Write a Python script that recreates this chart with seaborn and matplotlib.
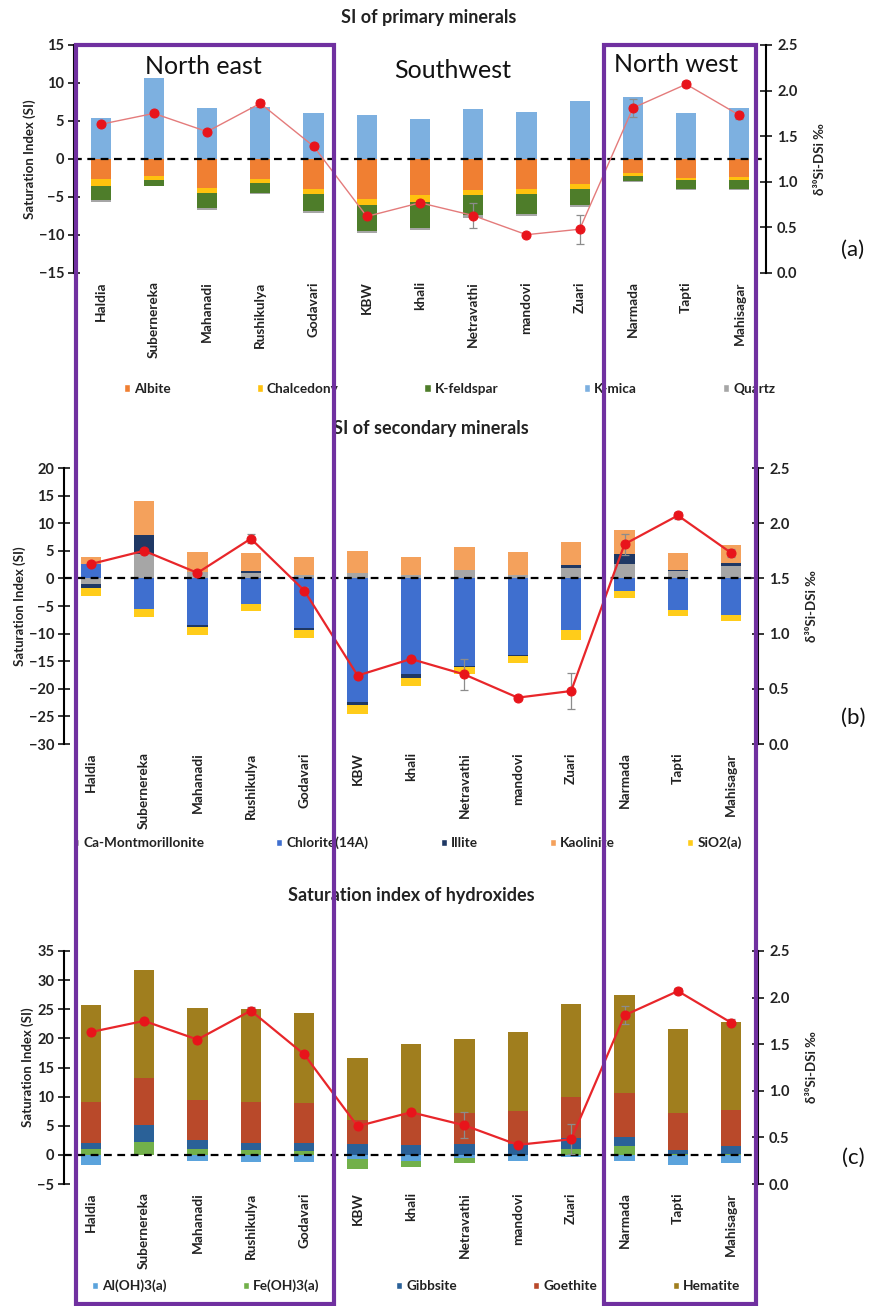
import numpy as np
import pandas as pd
import matplotlib
matplotlib.use("Agg")
import matplotlib.pyplot as plt
from matplotlib.patches import Rectangle, Patch
from matplotlib.ticker import FormatStrFormatter
import seaborn as sns

# ---------------- data ----------------
rivers = ["Haldia", "Subernereka", "Mahanadi", "Rushikulya", "Godavari", "KBW", "khali",
          "Netravathi", "mandovi", "Zuari", "Narmada", "Tapti", "Mahisagar"]

d30si = [1.63, 1.75, 1.55, 1.86, 1.39, 0.62, 0.77, 0.63, 0.42, 0.48, 1.81, 2.07, 1.73]
d30si_err = [0.02, 0.02, 0.02, 0.04, 0.03, 0.02, 0.02, 0.14, 0.01, 0.16, 0.095, 0.03, 0.04]

# (a) primary minerals
albite = [-2.6, -2.2, -3.8, -2.65, -3.95, -5.2, -4.8, -4.1, -3.9, -3.25, -1.9, -2.5, -2.4]
chalcedony = [-0.9, -0.6, -0.7, -0.55, -0.65, -0.9, -0.85, -0.7, -0.65, -0.75, -0.4, -0.3, -0.4]
k_feldspar = [-1.85, -0.7, -2.0, -1.3, -2.3, -3.4, -3.45, -2.6, -2.75, -2.0, -0.65, -1.2, -1.15]
k_mica = [5.4, 10.6, 6.7, 6.9, 6.0, 5.75, 5.25, 6.6, 6.25, 7.6, 8.1, 6.0, 6.7]
quartz = [-0.3, -0.1, -0.15, -0.1, -0.2, -0.3, -0.2, -0.3, -0.2, -0.3, -0.1, -0.1, -0.1]

# (b) secondary minerals
ca_mont = [-1.0, 4.35, 1.15, 1.0, 0.55, 1.0, 0.65, 1.6, 0.7, 1.95, 2.65, 1.3, 2.2]
chlorite = [2.6, -5.5, -8.5, -4.7, -9.05, -22.4, -17.4, -15.8, -13.8, -9.4, -2.3, -5.75, -6.7]
illite = [-0.75, 3.45, -0.3, 0.35, -0.3, -0.45, -0.6, -0.2, -0.2, 0.45, 1.7, 0.3, 0.5]
kaolinite = [1.2, 6.2, 3.65, 3.2, 3.35, 3.9, 3.25, 4.1, 4.1, 4.25, 4.35, 3.05, 3.3]
sio2 = [-1.5, -1.45, -1.4, -1.2, -1.4, -1.65, -1.5, -1.4, -1.4, -1.7, -1.2, -1.05, -1.05]

# (c) hydroxides
aloh3 = [-1.77, -0.1, -1.0, -1.3, -1.2, -0.75, -1.0, -0.5, -1.0, -0.45, -1.0, -1.8, -1.45]
feoh3 = [0.97, 2.25, 1.0, 0.85, 0.7, -1.6, -1.0, -0.9, -0.1, 0.97, 1.45, 0.15, 0.1]
gibbsite = [1.03, 2.85, 1.5, 1.25, 1.4, 1.85, 1.65, 1.85, 1.85, 2.0, 1.7, 0.7, 1.35]
goethite = [7.15, 8.15, 6.95, 7.05, 6.75, 4.15, 5.35, 5.4, 5.7, 7.0, 7.45, 6.4, 6.3]
hematite = [16.6, 18.45, 15.85, 15.85, 15.45, 10.7, 12.0, 12.7, 13.55, 16.0, 16.85, 14.3, 15.0]

# ---------------- style ----------------
sns.set_style("white")
plt.rcParams["font.family"] = ["Lato", "DejaVu Sans"]
plt.rcParams["axes.edgecolor"] = "black"

W, H = 874, 1306
fig = plt.figure(figsize=(W / 100, H / 100), dpi=100)
PURPLE = "#7030A0"


def fx(px):
    return px / W


def fy(py):
    return 1 - py / H


def make_axes(left, right, top, bottom):
    return fig.add_axes([fx(left), fy(bottom), fx(right) - fx(left), fy(top) - fy(bottom)])


x = np.arange(len(rivers))


def draw_panel(ax, series, colors, ylim, ystep, line_color, line_w):
    pos = np.zeros(len(rivers))
    neg = np.zeros(len(rivers))
    handles = []
    for name, vals in series:
        v = np.asarray(vals, float)
        bottom = np.where(v >= 0, pos, neg)
        ax.bar(x, v, width=0.38, bottom=bottom, color=colors[name], linewidth=0, zorder=2)
        pos = pos + np.where(v >= 0, v, 0)
        neg = neg + np.where(v < 0, v, 0)
        handles.append(Patch(facecolor=colors[name], label=name))
    ax.axhline(0, color="black", lw=1.6, ls=(0, (3.5, 2.5)), zorder=4)
    ax.set_xlim(-0.5, len(rivers) - 0.5)
    ax.set_ylim(*ylim)
    ax.set_yticks(np.arange(ylim[0], ylim[1] + 0.1, ystep))
    ax.set_xticks(x)
    ax.set_xticklabels(rivers, rotation=90, fontsize=9.8, fontweight="bold", color="#222222")
    ax.tick_params(axis="x", length=0, pad=6)
    ax.tick_params(axis="y", direction="inout", length=8, width=1.3, labelsize=10.5, pad=3)
    for lab in ax.get_yticklabels():
        lab.set_fontweight("bold")
        lab.set_color("#222222")
    for s in ["top", "right", "bottom"]:
        ax.spines[s].set_visible(False)
    ax.spines["left"].set_linewidth(1.5)
    ax.set_ylabel("Saturation Index (SI)", fontsize=9.5, fontweight="bold", labelpad=2, color="#222222")

    ax2 = ax.twinx()
    df = pd.DataFrame({"x": x, "d": d30si})
    ax2.errorbar(x, d30si, yerr=d30si_err, fmt="none", ecolor="#8c8c8c", elinewidth=0.9,
                 capsize=3, capthick=0.9, zorder=3)
    sns.lineplot(data=df, x="x", y="d", ax=ax2, color=line_color, lw=line_w, marker="o",
                 markersize=6.5, markerfacecolor="#E8141B", markeredgecolor="#E8141B", zorder=5)
    ax2.set_ylim(0, 2.5)
    ax2.set_yticks(np.arange(0, 2.51, 0.5))
    ax2.yaxis.set_major_formatter(FormatStrFormatter("%.1f"))
    ax2.tick_params(axis="y", direction="inout", length=8, width=1.3, labelsize=10.5, pad=4)
    for lab in ax2.get_yticklabels():
        lab.set_fontweight("bold")
        lab.set_color("#222222")
    for s in ["top", "left", "bottom"]:
        ax2.spines[s].set_visible(False)
    ax2.spines["right"].set_linewidth(1.5)
    ax2.set_xlabel("")
    ax2.set_ylabel("δ³⁰Si-DSi ‰", fontsize=9.5, fontweight="bold", labelpad=12, color="#222222")
    ax2.set_xlim(-0.5, len(rivers) - 0.5)
    return handles


def add_legend(handles, x0, y0, spacing):
    leg = fig.legend(handles=handles, loc="center left", bbox_to_anchor=(fx(x0), fy(y0)),
                     ncol=len(handles), frameon=False, prop={"weight": "bold", "size": 9.8},
                     handlelength=0.45, handleheight=0.45, handletextpad=0.3, columnspacing=spacing,
                     borderpad=0, borderaxespad=0)
    for t in leg.get_texts():
        t.set_color("#222222")


# ---------------- panel (a) ----------------
axa = make_axes(74, 766, 45, 273)
cols_a = {"Albite": "#F07F32", "Chalcedony": "#FFC20E", "K-feldspar": "#4E7D2A",
          "K-mica": "#7DB0E0", "Quartz": "#A6A6A6"}
ha = draw_panel(axa, [("Albite", albite), ("Chalcedony", chalcedony), ("K-feldspar", k_feldspar),
                      ("K-mica", k_mica), ("Quartz", quartz)],
                cols_a, (-15, 15), 5, "#E47B7B", 1.0)
add_legend(ha, 124, 389, 6.3)

# ---------------- panel (b) ----------------
axb = make_axes(64, 758, 468, 744)
cols_b = {"Ca-Montmorillonite": "#A6A6A6", "Chlorite(14A)": "#3F6FCF", "Illite": "#1F3864",
          "Kaolinite": "#F4A15C", "SiO2(a)": "#FFCC1A"}
hb = draw_panel(axb, [("Ca-Montmorillonite", ca_mont), ("Chlorite(14A)", chlorite), ("Illite", illite),
                      ("Kaolinite", kaolinite), ("SiO2(a)", sio2)],
                cols_b, (-30, 20), 5, "#E8262A", 1.6)
add_legend(hb, 73, 843, 5.3)

# ---------------- panel (c) ----------------
axc = make_axes(64, 758, 951, 1184)
cols_c = {"Al(OH)3(a)": "#5BA3DC", "Fe(OH)3(a)": "#72B04A", "Gibbsite": "#2A6198",
          "Goethite": "#B9492A", "Hematite": "#A07E1E"}
hc = draw_panel(axc, [("Al(OH)3(a)", aloh3), ("Fe(OH)3(a)", feoh3), ("Gibbsite", gibbsite),
                      ("Goethite", goethite), ("Hematite", hematite)],
                cols_c, (-5, 35), 5, "#E8262A", 1.6)
add_legend(hc, 92, 1286, 5.6)

# ---------------- titles & labels ----------------
fig.text(fx(429), fy(17), "SI of primary minerals", ha="center", va="center", fontsize=13,
         fontweight="bold", color="#222222")
fig.text(fx(431), fy(428), "SI of secondary minerals", ha="center", va="center", fontsize=13,
         fontweight="bold", color="#222222")
fig.text(fx(411), fy(895), "Saturation index of hydroxides", ha="center", va="center", fontsize=13,
         fontweight="bold", color="#222222")

fig.text(fx(203), fy(67), "North east", ha="center", va="center", fontsize=18, color="#111111")
fig.text(fx(453), fy(70), "Southwest", ha="center", va="center", fontsize=18, color="#111111")
fig.text(fx(676), fy(64), "North west", ha="center", va="center", fontsize=18, color="#111111")

fig.text(fx(853), fy(250), "(a)", ha="center", va="center", fontsize=16, color="#111111")
fig.text(fx(853), fy(718), "(b)", ha="center", va="center", fontsize=16, color="#111111")
fig.text(fx(853), fy(1158), "(c)", ha="center", va="center", fontsize=16, color="#111111")

# ---------------- region boxes ----------------
for (l, r) in [(75.5, 334), (604, 756)]:
    rect = Rectangle((fx(l), fy(1304)), fx(r) - fx(l), fy(45) - fy(1304), transform=fig.transFigure,
                     fill=False, edgecolor=PURPLE, lw=3.0, zorder=20)
    fig.add_artist(rect)

fig.savefig("out.png", dpi=100)
